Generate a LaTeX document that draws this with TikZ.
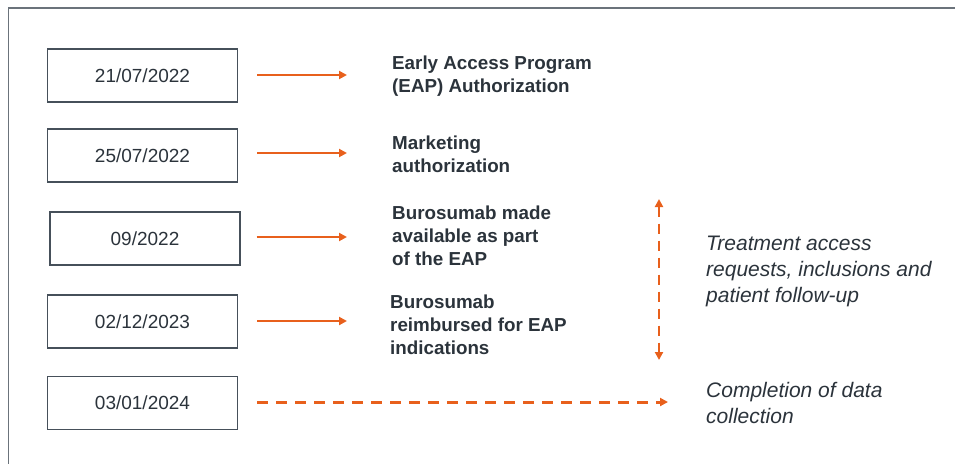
\documentclass[tikz,border=0pt]{standalone}
\usepackage{fontspec}
\setmainfont{Liberation Sans}
\usetikzlibrary{arrows.meta, positioning}
\definecolor{eaporange}{HTML}{E8601C}
\definecolor{eaptext}{HTML}{2B333B}
\definecolor{eapframe}{HTML}{46505A}
\tikzset{
        >={Triangle[length=8pt,width=8pt]}, % small filled heads
        datebox/.style={draw=eapframe, line width=1.3pt, minimum width=190pt, minimum height=53pt, text=eaptext, font=\fontsize{19}{23}\selectfont}, % the date boxes
        milestone/.style={anchor=west, align=left, inner sep=0pt, text=eaptext, font=\bfseries\fontsize{18.8}{23}\selectfont}, % bold event texts
        phase/.style={anchor=west, align=left, inner sep=0pt, text=eaptext, font=\itshape\fontsize{21}{26}\selectfont}, % italic period texts
        step arrow/.style={->, draw=eaporange, line width=2pt, shorten <=19pt},
        phase arrow/.style={draw=eaporange, line width=3pt, dash pattern=on 11pt off 8pt},
    }
\begin{document}
\begin{tikzpicture}[x=1pt, y=1pt]
    \useasboundingbox (0,0) rectangle (955,-464);
    % outer frame, open on the right and at the bottom
    \draw[eapframe!80, line width=1.5pt] (955,-8) -- (8.5,-8) -- (8.5,-464);
    % dates
    \node[datebox] (d1) at (142.5,-75.5) {21/07/2022};
    \node[datebox, below of=d1, node distance=80pt] (d2) {25/07/2022};
    \node[datebox, below of=d2, node distance=83pt, xshift=2.5pt] (d3) {09/2022};
    \node[datebox, below of=d3, node distance=83pt, xshift=-2.5pt] (d4) {02/12/2023};
    \node[datebox, below of=d4, node distance=81.5pt] (d5) {03/01/2024};
    % events
    \node[milestone] (e1) at (392,-76.5) {Early Access Program\\(EAP) Authorization};
    \node[milestone] (e2) at (392,-154) {Marketing\\authorization};
    \node[milestone] (e3) at (392,-236) {Burosumab made\\available as part\\of the EAP};
    \node[milestone] (e4) at (390,-325) {Burosumab\\reimbursed for EAP\\indications};
    \node[phase] (p1) at (706,-271) {Treatment access\\requests, inclusions and\\patient follow-up};
    \node[phase] (p2) at (706,-402.5) {Completion of data\\collection};
    \coordinate (v1) at (659,-199);
    \coordinate (v2) at (659,-360);
    \draw[step arrow, shorten >=45pt] (d1.east |- 0,-75) -- (e1.west |- 0,-75);
    \draw[step arrow, shorten >=45pt] (d2.east |- 0,-153) -- (e2.west |- 0,-153);
    \draw[step arrow, shorten >=45pt, shorten <=16pt] (d3.east |- 0,-237) -- (e3.west |- 0,-237);
    \draw[step arrow, shorten >=43pt] (d4.east |- 0,-321) -- (e4.west |- 0,-321);
    \draw[phase arrow, ->, shorten <=19pt, shorten >=38pt] (d5.east |- 0,-402) -- (p2.west |- 0,-402);
    \draw[phase arrow, <->, line width=2.6pt, dash pattern=on 10pt off 7pt] (v1) -- (v2);
  \end{tikzpicture}
\end{document}
